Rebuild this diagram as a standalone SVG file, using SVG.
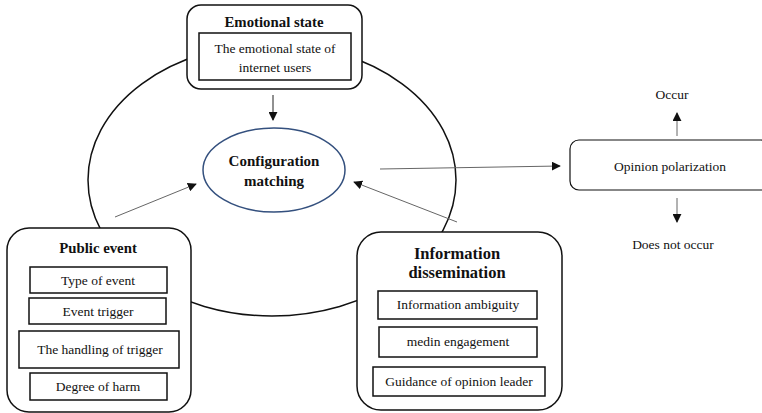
<svg xmlns="http://www.w3.org/2000/svg" width="762" height="413" viewBox="0 0 762 413">
<defs>
<style>
text{fill:#111;text-anchor:middle}
.t{font-weight:bold;font-size:14.8px}
.s{font-size:13.5px}
.box{fill:#fff;stroke:#111;stroke-width:1.5}
.sub{fill:#fff;stroke:#111;stroke-width:1.5}
.ln{fill:none;stroke:#222;stroke-width:1}
.gl{fill:none;stroke:#666;stroke-width:1}
</style>
<marker id="ah" viewBox="0 0 10 10" refX="9" refY="5" markerWidth="9" markerHeight="9" markerUnits="userSpaceOnUse" orient="auto">
<path d="M0,0 L10,5 L0,10 z" fill="#111"/>
</marker>
</defs>
<rect width="762" height="413" fill="#fff"/>
<g id="cycle">
<ellipse cx="272" cy="180" rx="184" ry="136" fill="none" stroke="#111" stroke-width="1.5"/>
</g>
<g id="connectors">
<line class="ln" x1="273" y1="95" x2="273" y2="120" marker-end="url(#ah)"/>
<line class="gl" x1="115" y1="217" x2="196" y2="184" marker-end="url(#ah)"/>
<line class="gl" x1="457" y1="222" x2="354" y2="182" marker-end="url(#ah)"/>
<line class="gl" x1="380" y1="169" x2="560" y2="166" marker-end="url(#ah)"/>
<line class="gl" x1="677" y1="136" x2="677" y2="113" marker-end="url(#ah)"/>
<line class="gl" x1="677" y1="198" x2="677" y2="222" marker-end="url(#ah)"/>
</g>
<g font-family="Liberation Serif, DejaVu Serif, serif">
<g id="emotional-state">
<rect class="box" x="187" y="5" width="175" height="84" rx="14"/>
<text class="t" x="274" y="27">Emotional state</text>
<rect class="sub" x="199" y="33" width="152" height="47"/>
<text class="s" x="275" y="53">The emotional state of</text>
<text class="s" x="275" y="72">internet users</text>
</g>
<g id="configuration-matching">
<ellipse cx="274" cy="170" rx="71" ry="42" fill="#fff" stroke="#34507e" stroke-width="1.5"/>
<text class="t" x="274" y="166" style="font-size:15px">Configuration</text>
<text class="t" x="274" y="186" style="font-size:15px">matching</text>
</g>
<g id="public-event">
<rect class="box" x="7" y="228" width="184" height="184" rx="22"/>
<text class="t" x="98" y="253">Public event</text>
<rect class="sub" x="30" y="267" width="137" height="26"/>
<text class="s" x="98" y="285">Type of event</text>
<rect class="sub" x="29" y="298" width="137" height="26"/>
<text class="s" x="98" y="316">Event trigger</text>
<rect class="sub" x="19" y="331" width="160" height="37"/>
<text class="s" x="100" y="354">The handling of trigger</text>
<rect class="sub" x="30" y="373" width="137" height="27"/>
<text class="s" x="98" y="391">Degree of harm</text>
</g>
<g id="information-dissemination">
<rect class="box" x="357" y="232" width="205" height="178" rx="24"/>
<text class="t" x="457" y="259" style="font-size:16.5px">Information</text>
<text class="t" x="457" y="278" style="font-size:16.5px">dissemination</text>
<rect class="sub" x="378" y="291" width="159" height="28"/>
<text class="s" x="458" y="309">Information ambiguity</text>
<rect class="sub" x="379" y="327" width="158" height="30"/>
<text class="s" x="458" y="346">medin engagement</text>
<rect class="sub" x="373" y="367" width="172" height="29"/>
<text class="s" x="459" y="386">Guidance of opinion leader</text>
</g>
<g id="opinion-polarization">
<rect class="box" x="570" y="140" width="200" height="50" rx="9" style="stroke-width:1.2"/>
<text class="s" x="670" y="171">Opinion polarization</text>
</g>
<g id="occur">
<text class="s" x="672" y="99">Occur</text>
</g>
<g id="does-not-occur">
<text class="s" x="673" y="249">Does not occur</text>
</g>
</g>
</svg>
